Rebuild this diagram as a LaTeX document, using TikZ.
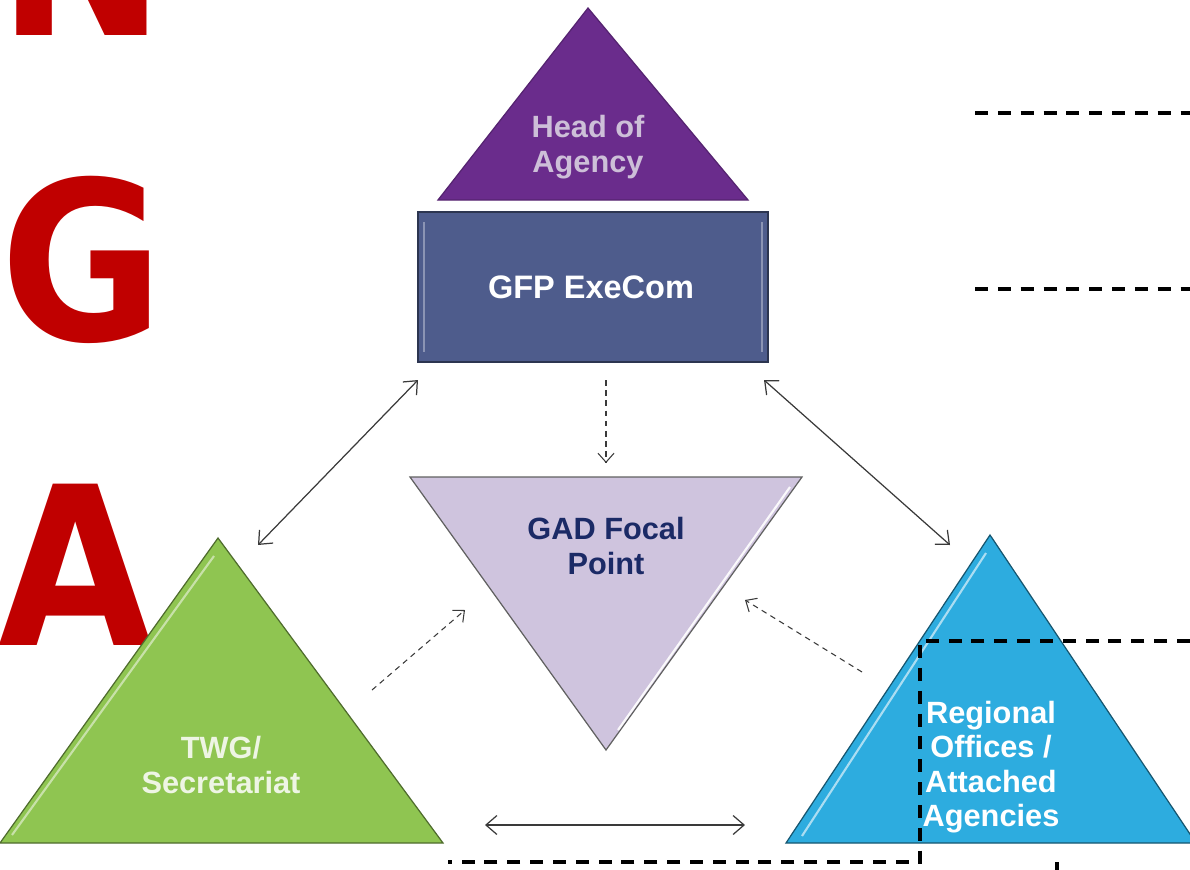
\documentclass[tikz,border=0pt]{standalone}
\usepackage{fontspec}
\setmainfont{Liberation Sans}
\newfontfamily\bannerfont{DejaVu Sans}
\usetikzlibrary{arrows.meta}
\definecolor{OrgInk}{HTML}{3A3A3A}
\definecolor{OrgRed}{HTML}{C00000}
\definecolor{AgencyPurple}{HTML}{6A2C8C}
\definecolor{AgencyText}{HTML}{CDBFD8}
\definecolor{ExeBlue}{HTML}{4E5C8C}
\definecolor{ExeEdge}{HTML}{2C3550}
\definecolor{FocalLilac}{HTML}{CFC4DE}
\definecolor{FocalNavy}{HTML}{1B2A66}
\definecolor{TwgGreen}{HTML}{8FC551}
\definecolor{TwgText}{HTML}{EEF5E4}
\definecolor{RegionBlue}{HTML}{2DACDF}
\tikzset{
  every node/.style={font=\bfseries, inner sep=0pt},
  banner/.style={font=\bannerfont\bfseries\fontsize{126}{126}\selectfont, text=OrgRed, anchor=base west},
  caption/.style={font=\bfseries\fontsize{17.5}{19.6}\selectfont, align=center},
  outline/.style={line width=0.7pt},
  sheen/.style={draw=white, opacity=0.6, line width=1.2pt},
  link/.style={{Straight Barb[length=2.2mm,width=3.8mm]}-{Straight Barb[length=2.2mm,width=3.8mm]}, draw=OrgInk, line width=0.7pt},
  feed/.style={-{Straight Barb[length=1.8mm,width=3.2mm]}, draw=OrgInk, line width=0.6pt, dash pattern=on 3.2pt off 2.6pt},
  frame/.style={draw=black, line width=2.2pt, dash pattern=on 7.4pt off 5.6pt},
}

\begin{document}
\begin{tikzpicture}[x=0.02cm, y=-0.02cm]
  \useasboundingbox (0,0) rectangle (1190,869);
  \clip (0,0) rectangle (1190,869);
  % Banner letters down the left margin
  \node[banner] (letN) at (-2,35) {\scalebox{0.9}[1]{N}};
  \node[banner] (letG) at (0,340) {\scalebox{0.9}[1]{G}};
  \node[banner] (letA) at (-2,645) {\scalebox{0.9}[1]{A}};
  % Head of agency on top of the executive committee
  \fill[AgencyPurple, draw=AgencyPurple!80!black, outline] (588,8) -- (748,200) -- (438,200) -- cycle;
  \node[caption, text=AgencyText] (head) at (588,147) {Head of\\Agency};
  \node[draw=ExeEdge, fill=ExeBlue, outline, minimum width=7cm, minimum height=3cm] (execom) at (593,287) {};
  \draw[draw=white, opacity=0.35, line width=1pt] (424,222) -- (424,352) (762,222) -- (762,352);
  \node[caption, text=white, font=\bfseries\fontsize{18.5}{20}\selectfont] (execomText) at (591,287) {GFP ExeCom};
  % Focal point, pointing down
  \fill[FocalLilac, draw=OrgInk!80, outline] (410,477) -- (802,477) -- (606,750) -- cycle;
  \draw[sheen, opacity=0.9] (790,487) -- (618,730);
  \node[caption, text=FocalNavy] (focal) at (606,546) {GAD Focal\\Point};
  % TWG and regional offices at the base
  \fill[TwgGreen, draw=TwgGreen!55!black, outline] (218,538) -- (443,843) -- (0,843) -- cycle;
  \draw[sheen, draw=TwgText] (12,835) -- (214,556);
  \node[caption, text=TwgText] (twg) at (221,765) {TWG/\\Secretariat};
  \fill[RegionBlue, draw=RegionBlue!50!black, outline] (990,535) -- (1196,843) -- (786,843) -- cycle;
  \draw[sheen] (802,836) -- (986,553);
  \node[caption, text=white] (region) at (991,767) {Regional\\Offices /\\Attached\\Agencies};
  % Arrow ends
  \coordinate (exeLeft) at (418,380);
  \coordinate (exeMid) at (606,380);
  \coordinate (exeRight) at (764,380);
  \coordinate (twgTop) at (258,545);
  \coordinate (regionTop) at (950,545);
  \coordinate (focalTop) at (606,463);
  \coordinate (twgFeed) at (372,690);
  \coordinate (focalLeft) at (465,610);
  \coordinate (regionFeed) at (862,672);
  \coordinate (focalRight) at (745,600);
  \coordinate (baseLeft) at (485,825);
  \coordinate (baseRight) at (745,825);
  \draw[link] (exeLeft) -- (twgTop);
  \draw[link] (exeRight) -- (regionTop);
  \draw[link] (baseLeft) -- (baseRight);
  \draw[feed] (exeMid) -- (focalTop);
  \draw[feed] (twgFeed) -- (focalLeft);
  \draw[feed] (regionFeed) -- (focalRight);
  % Dashed frame lines
  \draw[frame] (975,113) -- (1190,113);
  \draw[frame] (975,289) -- (1190,289);
  \draw[frame] (1190,641) -- (920,641) -- (920,862) -- (448,862);
  \draw[frame] (1057,862) -- (1057,875);
\end{tikzpicture}
\end{document}
